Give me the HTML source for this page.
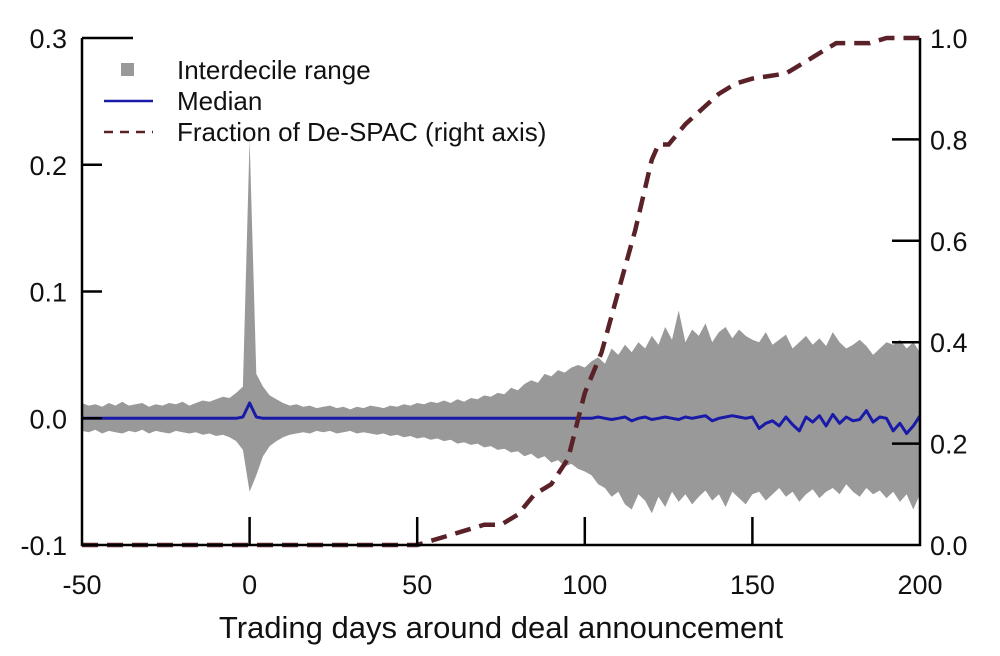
<!DOCTYPE html>
<html><head><meta charset="utf-8"><style>
html,body{margin:0;padding:0;background:#fff;}
svg{display:block;font-family:"Liberation Sans",Arial,sans-serif;}
</style></head><body>
<svg id="chart" width="1000" height="656" viewBox="0 0 1000 656"></svg>
<script>
const days = [];
for (let d = -50; d <= 200; d += 2) days.push(d);
const upperVals = [0.012,0.010,0.011,0.009,0.012,0.010,0.013,0.010,0.011,0.012,0.009,0.011,0.010,0.012,0.011,0.013,0.010,0.012,0.014,0.013,0.015,0.017,0.016,0.020,0.025,
0.22,
0.035,0.025,0.018,0.015,0.012,0.010,0.011,0.009,0.010,0.008,0.009,0.010,0.008,0.009,0.007,0.009,0.008,0.010,0.009,0.008,0.010,0.009,0.011,0.010,0.012,
0.011,0.013,0.012,0.014,0.012,0.015,0.013,0.016,0.015,0.018,0.017,0.020,0.019,0.024,0.022,0.027,0.030,0.028,0.035,0.033,0.038,0.036,0.040,0.042,0.040,
0.045,0.048,0.043,0.055,0.050,0.058,0.052,0.060,0.055,0.065,0.058,0.072,0.062,0.085,0.060,0.070,0.065,0.075,0.060,0.068,0.072,0.063,0.070,0.065,0.062,
0.060,0.068,0.058,0.062,0.066,0.055,0.060,0.065,0.058,0.063,0.057,0.068,0.060,0.055,0.058,0.062,0.057,0.050,0.055,0.060,0.058,0.062,0.055,0.060,0.052];
const lowerVals = [-0.010,-0.011,-0.009,-0.012,-0.010,-0.011,-0.012,-0.010,-0.011,-0.009,-0.012,-0.010,-0.011,-0.012,-0.010,-0.011,-0.012,-0.011,-0.013,-0.012,-0.014,-0.013,-0.015,-0.018,-0.025,
-0.058,
-0.045,-0.030,-0.022,-0.018,-0.015,-0.013,-0.012,-0.011,-0.012,-0.010,-0.011,-0.010,-0.012,-0.011,-0.010,-0.012,-0.011,-0.012,-0.013,-0.012,-0.014,-0.013,-0.015,-0.014,-0.016,
-0.015,-0.017,-0.016,-0.018,-0.017,-0.020,-0.019,-0.021,-0.020,-0.023,-0.022,-0.025,-0.024,-0.027,-0.026,-0.030,-0.028,-0.032,-0.030,-0.035,-0.033,-0.038,-0.036,-0.040,-0.042,
-0.045,-0.052,-0.055,-0.062,-0.058,-0.068,-0.072,-0.060,-0.065,-0.075,-0.062,-0.070,-0.058,-0.066,-0.060,-0.068,-0.062,-0.057,-0.065,-0.060,-0.070,-0.058,-0.063,-0.068,-0.060,
-0.058,-0.065,-0.060,-0.055,-0.062,-0.058,-0.066,-0.060,-0.056,-0.063,-0.058,-0.055,-0.060,-0.052,-0.058,-0.062,-0.055,-0.060,-0.057,-0.063,-0.058,-0.066,-0.060,-0.072,-0.060];
const medianVals = [0,0,0,0,0,0,0,0,0,0,0,0,0,0,0,0,0,0,0,0,0,0,0,0,0.001,
0.012,
0.001,0,0,0,0,0,0,0,0,0,0,0,0,0,0,0,0,0,0,0,0,0,0,0,0,
0,0,0,0,0,0,0,0,0,0,0,0,0,0,0,0,0,0,0,0,0,0,0,0,0,
0,0.001,0,-0.001,0,0.001,-0.002,0,0.001,-0.001,0,0.001,0,-0.001,0.001,0,0.001,0.002,-0.002,0,0.001,0.002,0.001,0,0.001,
-0.008,-0.004,-0.002,-0.006,0.001,-0.005,-0.010,0.001,-0.003,0.002,-0.006,0.003,-0.004,0.001,-0.002,-0.001,0.006,-0.003,0.001,0.000,-0.010,-0.004,-0.012,-0.006,0.002];
const fracDays = [-50,50,55,60,65,70,75,80,85,90,95,100,105,110,115,120,122,125,130,135,140,145,150,160,165,170,175,185,190,200];
const fracVals = [0,0,0.01,0.02,0.03,0.04,0.04,0.06,0.10,0.12,0.17,0.30,0.38,0.50,0.62,0.76,0.79,0.79,0.83,0.86,0.89,0.91,0.92,0.93,0.95,0.97,0.99,0.99,1.0,1.0];
const xTicks = [-50,0,50,100,150,200];
const yLeftTicks = [-0.1,0.0,0.1,0.2,0.3];
const yRightTicks = [0.0,0.2,0.4,0.6,0.8,1.0];

const X0=82,X1=920,Y0=545,Y1=38;
const xs = d => X0 + (d+50)/250*(X1-X0);
const yl = v => Y0 - (v+0.1)/0.4*(Y0-Y1);
const yr = v => Y0 - v*(Y0-Y1);
const svg = document.getElementById('chart');
const NS='http://www.w3.org/2000/svg';
function mk(tag, attrs){const e=document.createElementNS(NS,tag);for(const k in attrs)e.setAttribute(k,attrs[k]);svg.appendChild(e);return e;}

let pts = days.map((d,i)=>xs(d).toFixed(1)+','+yl(upperVals[i]).toFixed(1));
for(let i=days.length-1;i>=0;i--) pts.push(xs(days[i]).toFixed(1)+','+yl(lowerVals[i]).toFixed(1));
const band = mk('polygon',{points:pts.join(' '),fill:'#999999'});



const med = mk('polyline',{points:days.map((d,i)=>xs(d).toFixed(1)+','+yl(medianVals[i]).toFixed(1)).join(' '),fill:'none',stroke:'#1a1aa8','stroke-width':3,'stroke-linejoin':'round'});



const frac = mk('polyline',{points:fracDays.map((d,i)=>xs(d).toFixed(1)+','+yr(fracVals[i]).toFixed(1)).join(' '),fill:'none',stroke:'#5a2228','stroke-width':4.5,'stroke-dasharray':'16,9'});



const ax = mk('path',{d:`M${X0},${Y1} V${Y0} H${X1} V${Y1}`,fill:'none',stroke:'#000','stroke-width':2.5});


mk('line',{x1:X0,y1:Y1,x2:133,y2:Y1,stroke:'#000','stroke-width':2.5});

xTicks.forEach(t=>{
  const x=xs(t);
  if(t!==-50 && t!==200) mk('line',{x1:x,y1:Y0,x2:x,y2:Y0-28,stroke:'#000','stroke-width':2.5});
  const tx=mk('text',{x:x,y:Y0+49,'text-anchor':'middle','font-size':27,fill:'#111'});
  tx.textContent = t;
  
  
});
yLeftTicks.forEach(t=>{
  const y=yl(t);
  if(t>-0.1 && t<0.3) mk('line',{x1:X0,y1:y,x2:X0+20,y2:y,stroke:'#000','stroke-width':2.5});
  const tx=mk('text',{x:67,y:y+10,'text-anchor':'end','font-size':27,fill:'#111'});
  tx.textContent = t.toFixed(1);
  
  
});
yRightTicks.forEach(t=>{
  const y=yr(t);
  if(t>0 && t<1) mk('line',{x1:X1,y1:y,x2:X1-28,y2:y,stroke:'#000','stroke-width':2.5});
  const tx=mk('text',{x:930,y:y+10,'text-anchor':'start','font-size':27,fill:'#111'});
  tx.textContent = t.toFixed(1);
  
  
});
const xt=mk('text',{x:501,y:638,'text-anchor':'middle','font-size':31,fill:'#111'});
xt.textContent='Trading days around deal announcement';



const lg = mk('g',{});


mk('rect',{x:121,y:63,width:13,height:13,fill:'#999'});
mk('line',{x1:104,y1:101,x2:153,y2:101,stroke:'#1a1aa8','stroke-width':2.5});
mk('line',{x1:104,y1:132,x2:153,y2:132,stroke:'#5a2228','stroke-width':2.5,'stroke-dasharray':'9,7'});
[['Interdecile range',79],['Median',110],['Fraction of De-SPAC (right axis)',141]].forEach(([s,y])=>{
  const t=mk('text',{x:177,y:y,'font-size':26,fill:'#111'});
  t.textContent=s;
  
  
});
</script>
</body></html>
